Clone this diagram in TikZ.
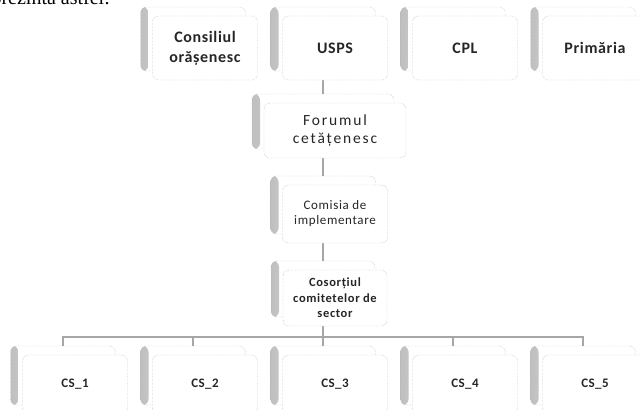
\documentclass[tikz,border=0pt]{standalone}
\usepackage{fontspec}
\setmainfont{Liberation Serif}
\newfontfamily\topfont[LetterSpace=4]{Carlito}
\newfontfamily\forfont[LetterSpace=12]{Carlito}
\newfontfamily\midfont[LetterSpace=5]{Carlito}
\newfontfamily\csfont[LetterSpace=3]{Carlito}
\usetikzlibrary{positioning, backgrounds}

\tikzset{
	orgbox/.style={draw=gray!75, densely dotted, rounded corners=6pt, fill=white, inner sep=0pt, align=center, text=black!85},
	backbox/.style={orgbox, path picture={\shade[left color=gray!50, right color=white] (path picture bounding box.north west) rectangle ([xshift=8pt]path picture bounding box.south west);}},
	link/.style={draw=gray!70, line width=1.6pt},
	toptxt/.style={font={\topfont\bfseries\fontsize{16}{20}\selectfont}},
	fortxt/.style={font={\forfont\fontsize{15.5}{18}\selectfont}},
	comtxt/.style={font={\midfont\fontsize{13}{15}\selectfont}},
	costxt/.style={font={\midfont\bfseries\fontsize{12.5}{15.5}\selectfont}},
	cstxt/.style={font={\csfont\bfseries\fontsize{13}{14}\selectfont}}
}

% back box + front box: name, x, y, width, height, text style, text
\newcommand{\orgpair}[7]{%
	\node[backbox, minimum width=#4, minimum height=#5] (#1-b) at (#2-12,#3-9) {};
	\node[orgbox, #6, minimum width=#4, minimum height=#5] (#1) at (#2,#3) {#7};
}

\begin{document}
\begin{tikzpicture}[x=1pt, y=-1pt]
	\useasboundingbox (0,0) rectangle (640,410);
	\node[anchor=base east, inner sep=0pt, font={\fontsize{20}{22}\selectfont}] (intro) at (110,4) {prezintă astfel:};

	% top row
	\orgpair{cons}{205}{48}{105}{64}{toptxt}{Consiliul\\orășenesc}
	\orgpair{usps}{335}{48}{105}{64}{toptxt}{USPS}
	\orgpair{cpl}{465}{48}{105}{64}{toptxt}{CPL}
	\orgpair{prim}{595}{48}{105}{64}{toptxt}{Primăria}

	% middle column
	\orgpair{forum}{335}{130.5}{142}{55}{fortxt}{Forumul\\cetățenesc}
	\orgpair{com}{335}{214}{105}{58}{comtxt}{Comisia de\\implementare}
	\orgpair{cos}{335}{298}{104}{56}{costxt}{Cosorțiul\\comitetelor de\\sector}

	% sector committees
	\foreach \i/\cx in {1/75, 2/205, 3/335, 4/465, 5/595}
		\orgpair{cs\i}{\cx}{384.5}{105}{59}{cstxt}{CS\_\i};

	\coordinate (bar) at (323,337);
	\begin{pgfonlayer}{background}
		\draw[link] (usps-b.south) -- (forum-b.north);
		\draw[link] (forum-b.south) -- (com-b.north);
		\draw[link] (com-b.south) -- (cos-b.north);
		\draw[link] (cos-b.south) -- (bar);
		\foreach \i in {1,...,5}
			\draw[link] (bar) -| (cs\i-b.north);
	\end{pgfonlayer}
\end{tikzpicture}
\end{document}
